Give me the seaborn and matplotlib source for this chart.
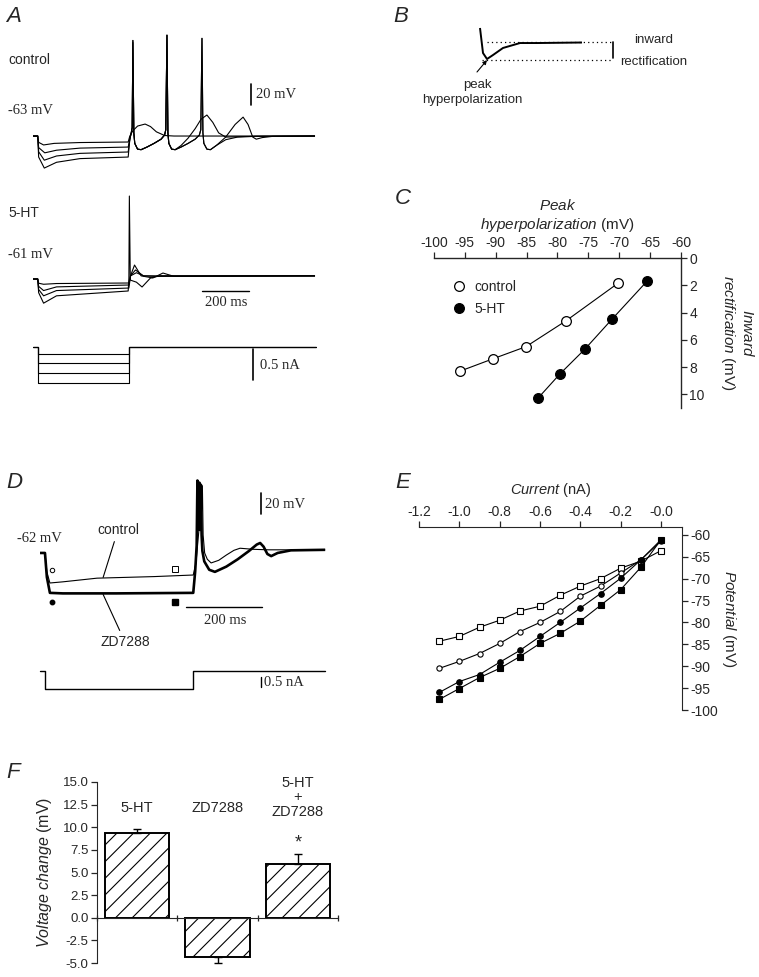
import numpy as np
import pandas as pd
import matplotlib
matplotlib.use('Agg')
import matplotlib.pyplot as plt
import seaborn as sns
from matplotlib.lines import Line2D

sns.set_style('ticks')
plt.rcParams['font.family'] = ['Liberation Sans', 'DejaVu Sans']
plt.rcParams['mathtext.fontset'] = 'custom'
plt.rcParams['mathtext.rm'] = 'Liberation Sans'
plt.rcParams['mathtext.it'] = 'Liberation Sans:italic'
plt.rcParams['axes.unicode_minus'] = False
plt.rcParams['hatch.linewidth'] = 0.8
SERIF = ['Liberation Serif', 'DejaVu Serif']

# ---------------- data: panel A (time in ms, potential in mV) ----------------
# control, four hyperpolarizing steps
a_c1_t = [0, 20, 24, 45, 90, 200, 405, 412, 425, 445, 477, 500, 525, 560, 600, 1200]
a_c1_v = [-63, -63, -69, -71.5, -70, -69.2, -68.7, -63, -58, -53.5, -51.6, -54, -59, -62.5, -63, -63]
a_c2_t = [0, 20, 24, 50, 100, 200, 405, 412, 418, 422, 425, 429, 433, 445, 460, 485, 515, 545, 560, 565, 570,
          574, 578, 590, 605, 630, 660, 690, 715, 740, 765, 790, 820, 900, 1200]
a_c2_v = [-63, -63, -74, -79, -76.5, -74.5, -73.5, -66, -60, -55, 28, -60, -70, -75.5, -76, -73.5, -70, -66, -62, -57, 33,
          -60, -70, -75.5, -76, -72, -65, -56, -47, -43, -50, -60, -64, -63.5, -63]
a_c3_t = [0, 20, 24, 48, 100, 200, 405, 412, 418, 422, 425, 429, 433, 445, 460, 485, 515, 545, 560, 565, 570,
          574, 578, 590, 605, 630, 660, 690, 708, 714, 719, 723, 727, 740, 755, 780, 820, 870, 950, 1200]
a_c3_v = [-63, -63, -78, -86, -82, -79.5, -78.2, -66, -60, -55, 28, -60, -70, -75.5, -76, -73.5, -70, -66, -62, -57, 33,
          -60, -70, -75.5, -76, -73.5, -70, -66, -62, -57, 30, -60, -70, -75.5, -76, -72, -66.5, -64, -63.2, -63]
a_c4_t = [0, 20, 24, 48, 100, 200, 405, 412, 418, 422, 425, 429, 433, 445, 460, 485, 515, 545, 560, 565, 570,
          574, 578, 590, 605, 630, 660, 690, 708, 714, 719, 723, 727, 740, 755, 780, 820, 860, 894, 915, 935, 950,
          975, 1020, 1200]
a_c4_v = [-63, -63, -83, -93.5, -88, -84.5, -83, -66, -60, -55, 26, -60, -70, -75.5, -76, -73.5, -70, -66, -62, -57, 33,
          -60, -70, -75.5, -76, -73.5, -70, -66, -62, -57, 30, -60, -70, -75.5, -76, -72, -64, -52, -45, -52, -64, -66,
          -64.5, -63.3, -63]
# 5-HT
a_h1_t = [0, 20, 24, 45, 100, 408, 415, 440, 470, 1200]
a_h1_v = [-61, -61, -65, -66, -65.3, -64.8, -58, -55, -58, -58]
a_h2_t = [0, 20, 24, 45, 100, 408, 415, 436, 470, 520, 1200]
a_h2_v = [-61, -61, -68, -72, -68.5, -66.7, -58, -52.4, -58, -58.5, -58]
a_h3_t = [0, 20, 24, 45, 100, 408, 415, 432, 460, 510, 553, 600, 1200]
a_h3_v = [-61, -61, -71, -77, -72, -69.6, -58, -47.7, -58, -60, -55.3, -58.5, -58]
a_h4_t = [0, 20, 24, 45, 100, 405, 408, 410, 414, 440, 464, 500, 540, 1200]
a_h4_v = [-61, -61, -74, -84, -77, -72.4, -60, 18, -62, -64, -68.6, -60, -58, -58]
# injected current steps (nA)
a_step_on, a_step_off, a_end = 20, 410, 1205
a_cur_levels = [-0.11, -0.26, -0.42, -0.58]

# ---------------- panel B ----------------
b_t = [0, 6, 14, 26, 46, 80, 114, 204]
b_v = [-46.7, -70.5, -76.2, -72.4, -65.7, -61, -61, -60.5]
b_steady, b_peak = -60.3, -77.1

# ---------------- panel C ----------------
c_ctrl_x = [-95.8, -90.5, -85.1, -78.6, -70.2]
c_ctrl_y = [8.3, 7.4, 6.5, 4.6, 1.85]
c_5ht_x = [-83.2, -79.6, -75.6, -71.2, -65.5]
c_5ht_y = [10.3, 8.5, 6.7, 4.5, 1.7]

# ---------------- panel D ----------------
d_ctrl_t = [0, 13, 18, 26, 60, 150, 300, 403, 410, 418, 420, 423, 427, 429, 433, 440, 450, 470, 490, 510, 526,
            560, 600, 750]
d_ctrl_v = [-62, -62, -80, -90.6, -89.5, -86, -84.5, -83, -72, -40, 5, -40, 2, -45, -62, -68, -71.5, -69, -64, -59.5,
            -57.5, -58.5, -59, -59]
d_zd_t = [0, 13, 18, 26, 60, 200, 403, 408, 412, 414, 417, 419, 421, 423, 425, 427, 432, 445, 460, 490, 520, 550,
          570, 579, 588, 598, 608, 625, 660, 750]
d_zd_v = [-62, -62, -85, -100, -100.5, -100.5, -100, -80, -55, 7, -40, 5, -40, 3, -45, -60, -70, -78, -80, -75, -68,
          -60, -54, -52.5, -56, -63, -65, -62, -59.5, -59]
d_mark_t = [32, 355]
d_ctrl_mark_v = [-78, -77]
d_zd_mark_v = [-109, -109]
d_step_on, d_step_off, d_end = 13, 403, 750
d_cur_level = -0.9

# ---------------- panel E ----------------
e_current = [-1.1, -1.0, -0.9, -0.8, -0.7, -0.6, -0.5, -0.4, -0.3, -0.2, -0.1, 0.0]
e_ctrl_end = [-84.3, -83.2, -81.1, -79.5, -77.4, -76.3, -73.8, -71.7, -70.0, -67.6, -66.0, -63.6]
e_ctrl_peak = [-90.5, -88.9, -87.1, -84.8, -82.1, -80.0, -77.5, -74.0, -71.7, -68.7, -65.7, -61.4]
e_zd_peak = [-96.0, -93.5, -91.9, -89.1, -86.4, -83.2, -80.0, -76.7, -73.4, -69.9, -65.7, -61.1]
e_zd_end = [-97.6, -95.1, -92.6, -90.5, -87.8, -84.8, -82.5, -79.7, -76.1, -72.5, -67.4, -61.1]

# ---------------- panel F ----------------
f_groups = ['5-HT', 'ZD7288', '5-HT\n+\nZD7288']
f_values = [9.4, -4.3, 5.9]
f_err = [0.45, 0.75, 1.1]

# ---------------- figure ----------------
W, H = 759, 977
fig = plt.figure(figsize=(W / 100, H / 100), dpi=100)


def box(x0, y0, x1, y1):
    # axes from a pixel box (top-left origin)
    return fig.add_axes([x0 / W, 1 - y1 / H, (x1 - x0) / W, (y1 - y0) / H])


def ftext(x, y, s, **kw):
    kw.setdefault('va', 'center')
    kw.setdefault('fontsize', 10)
    fig.text(x / W, 1 - y / H, s, **kw)


def trace(ax, t, v, lw=0.8):
    ax.plot(t, v, color='black', lw=lw, solid_joinstyle='round', solid_capstyle='butt')


def step_trace(ax, on, off, end, level, lw=0.8):
    ax.plot([0, on, on, off, off, end], [0, 0, level, level, 0, 0], color='black', lw=lw)


# panel letters
for lx, ly, s in [(6, 17, 'A'), (393, 17, 'B'), (395, 198, 'C'), (6, 483, 'D'), (395, 482, 'E'), (6, 772, 'F')]:
    ftext(lx, ly, s, fontsize=16, style='italic')

# ---- A ----
axA1 = box(30, 25, 325, 175)
for t, v in [(a_c1_t, a_c1_v), (a_c2_t, a_c2_v), (a_c3_t, a_c3_v), (a_c4_t, a_c4_v)]:
    trace(axA1, t, v)
axA1.plot([928, 928], [-33.5, -13.5], color='black', lw=1.2)
axA1.set_xlim(-12.8, 1242.5)
axA1.set_ylim(-100.1, 42.7)
axA1.axis('off')

axA2 = box(30, 185, 325, 310)
for t, v in [(a_h1_t, a_h1_v), (a_h2_t, a_h2_v), (a_h3_t, a_h3_v), (a_h4_t, a_h4_v)]:
    trace(axA2, t, v)
axA2.plot([719, 919], [-72.4, -72.4], color='black', lw=1.0)
axA2.set_xlim(-12.8, 1242.5)
axA2.set_ylim(-90.5, 28.5)
axA2.axis('off')

axA3 = box(30, 338, 325, 392)
for lvl in a_cur_levels:
    step_trace(axA3, a_step_on, a_step_off, a_end, lvl)
axA3.plot([936, 936], [-0.53, -0.03], color='black', lw=1.2)
axA3.set_xlim(-12.8, 1242.5)
axA3.set_ylim(-0.726, 0.145)
axA3.axis('off')

ftext(8, 60, 'control')
ftext(8, 110, '-63 mV', family=SERIF, fontsize=10.5)
ftext(256, 94, '20 mV', family=SERIF, fontsize=10.5)
ftext(8, 213, '5-HT')
ftext(8, 255, '-61 mV', family=SERIF, fontsize=10.5)
ftext(226, 302, '200 ms', family=SERIF, fontsize=10.5, ha='center')
ftext(260, 366, '0.5 nA', family=SERIF, fontsize=10.5)

# ---- B ----
axB = box(470, 20, 620, 75)
trace(axB, b_t, b_v, lw=1.4)
axB.plot([14, 264], [b_steady, b_steady], color='black', lw=0.9, ls=(0, (1, 2.5)))
axB.plot([4, 264], [b_peak, b_peak], color='black', lw=0.9, ls=(0, (1, 2.5)))
axB.plot([266, 266], [b_steady + 0.6, b_peak + 1.6], color='black', lw=1.2)
axB.annotate('', xy=(b_t[2], b_v[2] - 1), xycoords='data',
             xytext=(477 / W, 1 - 72 / H), textcoords='figure fraction',
             arrowprops=dict(arrowstyle='-|>', color='black', lw=0.8, mutation_scale=6, shrinkA=0, shrinkB=0))
axB.set_xlim(-20, 280)
axB.set_ylim(-91.4, -39.1)
axB.axis('off')
ftext(654, 40, 'inward', ha='center', fontsize=9.5)
ftext(654, 62, 'rectification', ha='center', fontsize=9.5)
ftext(477, 85, 'peak', ha='center', fontsize=9.5)
ftext(472, 100, 'hyperpolarization', ha='center', fontsize=9.5)

# ---- C ----
axC = box(434, 258, 681, 408)
sns.lineplot(x=c_ctrl_x, y=c_ctrl_y, sort=False, color='black', lw=0.8, marker='o', ms=7,
             mfc='white', mec='black', mew=0.9, clip_on=False, ax=axC)
sns.lineplot(x=c_5ht_x, y=c_5ht_y, sort=False, color='black', lw=0.8, marker='o', ms=7,
             mfc='black', mec='black', mew=0.9, clip_on=False, ax=axC)
axC.set_xlim(-100, -60)
axC.set_ylim(11, 0)
axC.set_xticks(np.arange(-100, -59, 5))
axC.set_yticks(np.arange(0, 11, 2))
axC.xaxis.tick_top()
axC.yaxis.tick_right()
axC.xaxis.set_label_position('top')
axC.yaxis.set_label_position('right')
for s in ['left', 'bottom']:
    axC.spines[s].set_visible(False)
for s in ['top', 'right']:
    axC.spines[s].set_linewidth(1.0)
axC.tick_params(length=4, width=0.9, pad=2, labelsize=10)
axC.set_xlabel('$\\it{Peak}$\n$\\it{hyperpolarization}$ (mV)', fontsize=11, labelpad=5)
axC.set_ylabel('$\\it{Inward}$\n$\\it{rectification}$ (mV)', fontsize=11, rotation=270,
               labelpad=36, multialignment='center')
handles = [Line2D([], [], ls='none', marker='o', ms=7, mfc='white', mec='black', mew=0.9),
           Line2D([], [], ls='none', marker='o', ms=7, mfc='black', mec='black', mew=0.9)]
axC.legend(handles, ['control', '5-HT'], loc='upper left', bbox_to_anchor=(0.078, 0.853),
           frameon=False, borderpad=0, borderaxespad=0, handlelength=0.8,
           handletextpad=0.75, labelspacing=0.57, fontsize=10)

# ---- D ----
axD = box(35, 470, 330, 625)
trace(axD, d_ctrl_t, d_ctrl_v, lw=0.8)
trace(axD, d_zd_t, d_zd_v, lw=1.9)
axD.plot(d_mark_t[:1], d_ctrl_mark_v[:1], ls='none', marker='o', ms=3.2, mfc='white', mec='black', mew=0.7)
axD.plot(d_mark_t[1:], d_ctrl_mark_v[1:], ls='none', marker='s', ms=4.2, mfc='white', mec='black', mew=0.7)
axD.plot(d_mark_t[:1], d_zd_mark_v[:1], ls='none', marker='o', ms=3.2, mfc='black', mec='black')
axD.plot(d_mark_t[1:], d_zd_mark_v[1:], ls='none', marker='s', ms=4.2, mfc='black', mec='black')
axD.plot([581, 581], [-24.9, -4.9], color='black', lw=1.2)
axD.plot([384, 584], [-113.4, -113.4], color='black', lw=1.0)
axD.annotate('control', xy=(166, -85.3), xycoords='data',
             xytext=(118 / W, 1 - 530 / H), textcoords='figure fraction', ha='center', va='center',
             fontsize=10, arrowprops=dict(arrowstyle='-', color='black', lw=0.8, shrinkA=1, shrinkB=0))
axD.annotate('ZD7288', xy=(166, -101.5), xycoords='data',
             xytext=(125 / W, 1 - 642 / H), textcoords='figure fraction', ha='center', va='center',
             fontsize=10, arrowprops=dict(arrowstyle='-', color='black', lw=0.8, shrinkA=1, shrinkB=0))
axD.set_xlim(-13.2, 762.7)
axD.set_ylim(-130.6, 17)
axD.axis('off')

axD2 = box(35, 660, 330, 695)
step_trace(axD2, d_step_on, d_step_off, d_end, d_cur_level, lw=1.0)
axD2.plot([581, 581], [-0.8, -0.3], color='black', lw=1.0)
axD2.set_xlim(-13.2, 762.7)
axD2.set_ylim(-1.2, 0.55)
axD2.axis('off')

ftext(17, 538, '-62 mV', family=SERIF, fontsize=10.5)
ftext(265, 505, '20 mV', family=SERIF, fontsize=10.5)
ftext(225, 621, '200 ms', family=SERIF, fontsize=10.5, ha='center')
ftext(264, 682, '0.5 nA', family=SERIF, fontsize=10.5)

# ---- E ----
axE = box(419, 527, 682, 710)
e_styles = [(e_ctrl_end, 's', 'white', 5.0), (e_ctrl_peak, 'o', 'white', 3.8),
            (e_zd_peak, 'o', 'black', 4.0), (e_zd_end, 's', 'black', 5.0)]
for yv, mk, fc, ms in e_styles:
    sns.lineplot(x=e_current, y=yv, sort=False, color='black', lw=0.8, marker=mk, ms=ms,
                 mfc=fc, mec='black', mew=0.8, clip_on=False, ax=axE)
axE.set_xlim(-1.2, 0.104)
axE.set_ylim(-100, -58.2)
e_xticks = np.round(np.arange(-1.2, 0.01, 0.2), 1)
axE.set_xticks(e_xticks)
axE.set_xticklabels([f'{v:.1f}' for v in e_xticks])
axE.set_yticks(np.arange(-100, -59, 5))
axE.xaxis.tick_top()
axE.yaxis.tick_right()
axE.xaxis.set_label_position('top')
axE.yaxis.set_label_position('right')
for s in ['left', 'bottom']:
    axE.spines[s].set_visible(False)
axE.tick_params(length=4, width=0.9, pad=2, labelsize=10)
axE.set_xlabel('$\\it{Current}$ (nA)', fontsize=10.5, labelpad=8)
axE.set_ylabel('$\\it{Potential}$ (mV)', fontsize=11, rotation=270, labelpad=14)

# ---- F ----
axF = box(97, 782, 338, 963)
sns.barplot(x=f_groups, y=f_values, order=f_groups, color='white', saturation=1,
            edgecolor='black', linewidth=1.4, hatch='//', width=0.8, ax=axF)
f_low = [e if v < 0 else 0 for v, e in zip(f_values, f_err)]
f_high = [e if v > 0 else 0 for v, e in zip(f_values, f_err)]
axF.errorbar(range(len(f_values)), f_values, yerr=[f_low, f_high], fmt='none',
             ecolor='black', elinewidth=1.0, capsize=3, capthick=1.0, clip_on=False)
axF.set_xlim(-0.5, 2.5)
axF.set_ylim(-5, 15)
axF.set_yticks(np.arange(-5, 15.1, 2.5))
axF.set_yticklabels([f'{v:.1f}' for v in np.arange(-5, 15.1, 2.5)])
axF.set_xticks([-0.5, 0.5, 1.5, 2.5])
axF.set_xticklabels([])
axF.spines['bottom'].set_position(('data', 0))
axF.spines['top'].set_visible(False)
axF.spines['right'].set_visible(False)
axF.tick_params(axis='y', length=4, width=0.9, pad=2, labelsize=9.5)
axF.tick_params(axis='x', length=4, width=0.9, direction='inout')
axF.set_xlabel('')
axF.set_ylabel('$\\it{Voltage}$ $\\it{change}$ (mV)', fontsize=11.5, labelpad=6)
for i, (lab, ly) in enumerate(zip(f_groups, [12.15, 12.15, 13.3])):
    axF.text(i, ly, lab, ha='center', va='center', fontsize=10.5, linespacing=1.05)
axF.text(2, 8.3, '*', ha='center', va='center', fontsize=13)

fig.savefig('out.png', dpi=100)
